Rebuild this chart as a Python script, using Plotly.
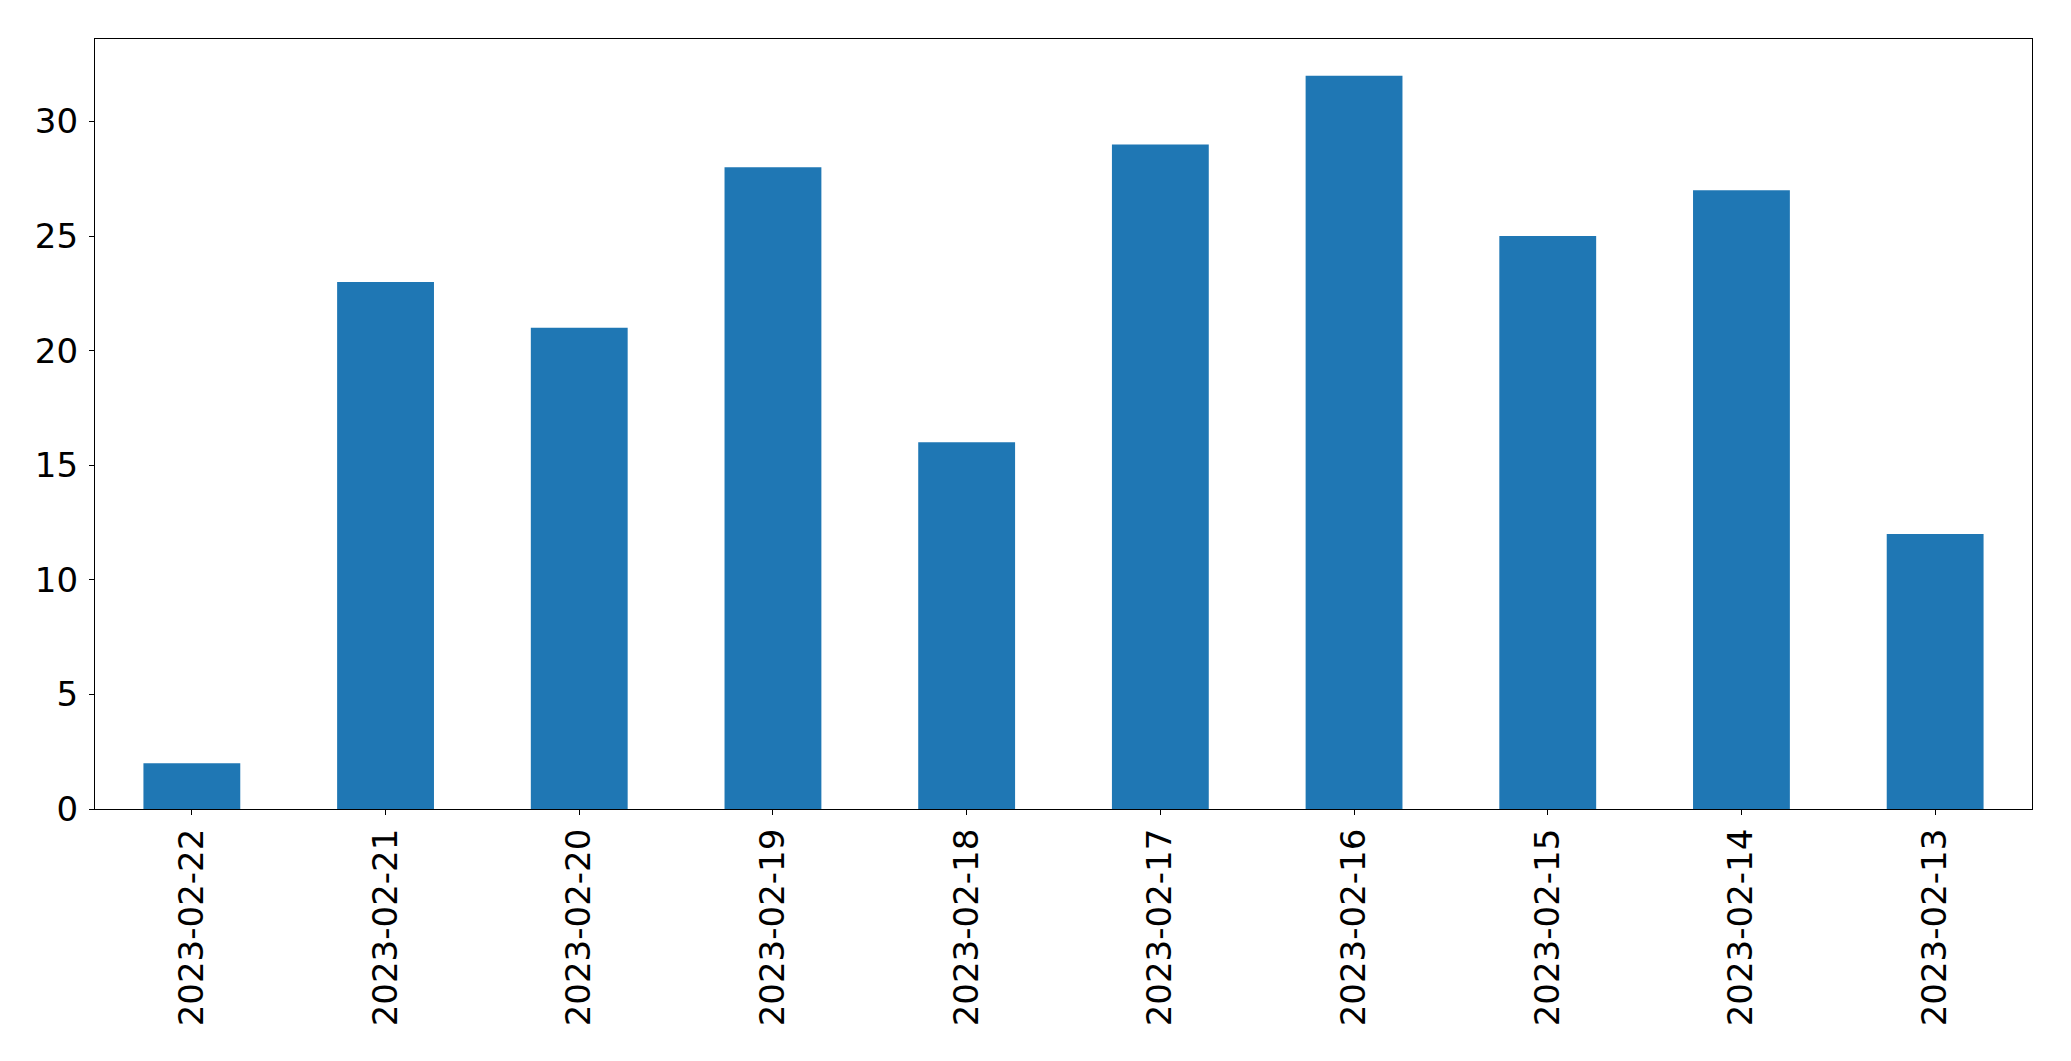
import plotly.graph_objects as go

dates = ["2023-02-22", "2023-02-21", "2023-02-20", "2023-02-19", "2023-02-18",
         "2023-02-17", "2023-02-16", "2023-02-15", "2023-02-14", "2023-02-13"]
counts = [2, 23, 21, 28, 16, 29, 32, 25, 27, 12]
y_ticks = [0, 5, 10, 15, 20, 25, 30]

fig = go.Figure(go.Bar(x=dates, y=counts, marker_color="#1f77b4",
                       marker_line_width=0, width=0.5))

fig.update_layout(
    width=2063, height=1053,
    margin=dict(l=87, r=39, t=31, b=252),
    paper_bgcolor="white", plot_bgcolor="white",
    font=dict(family="DejaVu Sans", size=34, color="black"),
    showlegend=False,
    bargap=0.5,
)
fig.update_xaxes(type="category", range=[-0.5, 9.5], tickangle=-90,
                 showline=True, linecolor="black", linewidth=1.2, mirror=True,
                 ticks="outside", ticklen=5, tickwidth=1.2, tickcolor="black",
                 showgrid=False, zeroline=False, ticklabelstandoff=0,
                 automargin=False)
fig.update_yaxes(range=[0, 33.6], tickvals=y_ticks,
                 showline=True, linecolor="black", linewidth=1.2, mirror=True,
                 ticks="outside", ticklen=5, tickwidth=1.2, tickcolor="black",
                 showgrid=False, zeroline=False, ticklabelstandoff=4,
                 automargin=False)

fig.write_html("out.html")
